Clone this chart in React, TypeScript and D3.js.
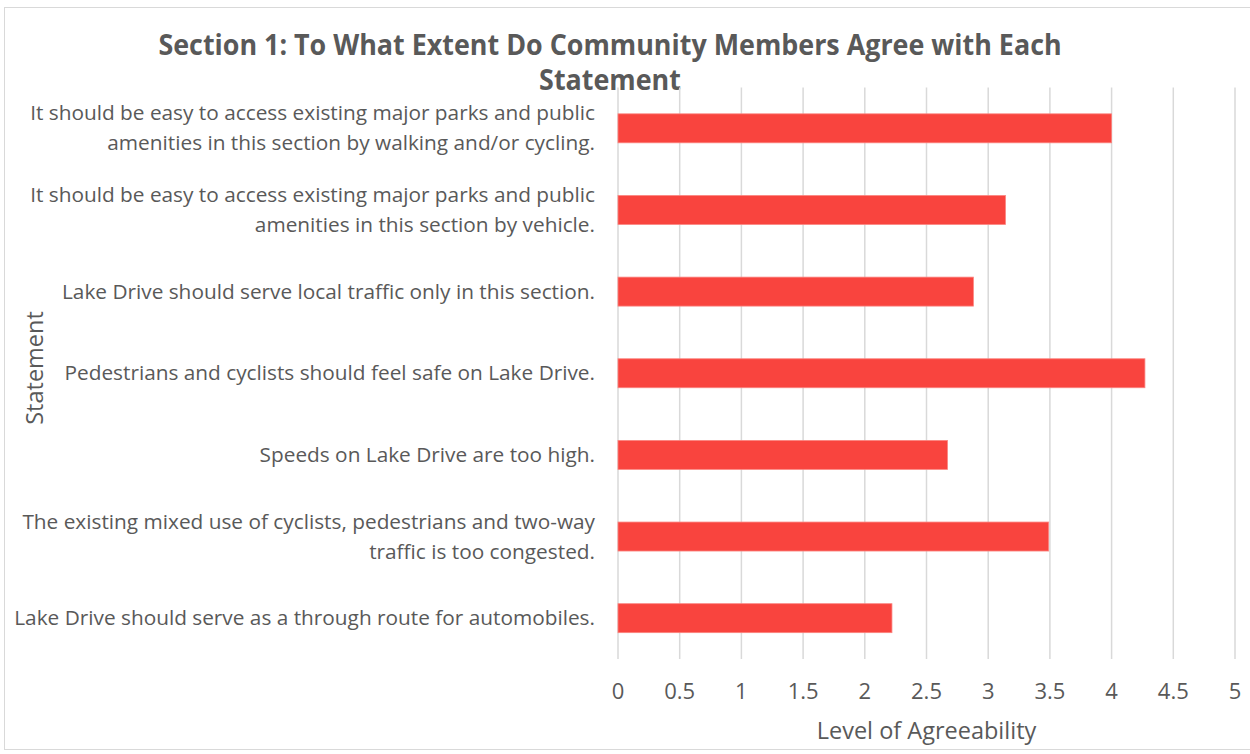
import * as d3 from "d3";

// statements as they wrap in the original, top to bottom
const statements: string[][] = [
  ["It should be easy to access existing major parks and public", "amenities in this section by walking and/or cycling."],
  ["It should be easy to access existing major parks and public", "amenities in this section by vehicle."],
  ["Lake Drive should serve local traffic only in this section."],
  ["Pedestrians and cyclists should feel safe on Lake Drive."],
  ["Speeds on Lake Drive are too high."],
  ["The existing mixed use of cyclists, pedestrians and two-way", "traffic is too congested."],
  ["Lake Drive should serve as a through route for automobiles."],
];
const agreeability: number[] = [4.0, 3.14, 2.88, 4.27, 2.67, 3.49, 2.22];
const ticks: number[] = [0, 0.5, 1, 1.5, 2, 2.5, 3, 3.5, 4, 4.5, 5];
const titleLines = ["Section 1: To What Extent Do Community Members Agree with Each", "Statement"];

const W = 1250;
const H = 754;
const FONT = "'Open Sans', sans-serif";
const TXT = "#595959";

const App = () => {
  const keys = statements.map((_, i) => String(i));
  const x = d3.scaleLinear().domain([0, 5]).range([618, 1235]);
  const y = d3.scaleBand().domain(keys).range([87.5, 659]).paddingInner(0.645).paddingOuter(0.3225);

  return (
    <svg width={W} height={H} style={{ position: "absolute", left: 0, top: 0 }}>
      <rect x={4.5} y={7.5} width={W} height={742} fill="#fff" stroke="#d9d9d9" strokeWidth={1} />

      {titleLines.map((t, i) => (
        <text key={i} transform={`translate(610,${55 + i * 35}) scale(0.96,1)`} textAnchor="middle"
          fontFamily={FONT} fontWeight={700} fontSize={28} fill={TXT}>{t}</text>
      ))}

      {ticks.map(t => (
        <line key={t} x1={x(t)} x2={x(t)} y1={87.5} y2={659} stroke="#d9d9d9" strokeWidth={1.5} />
      ))}

      {agreeability.map((v, i) => (
        <rect key={i} x={x(0)} y={y(keys[i])} width={x(v) - x(0)} height={y.bandwidth()}
          fill="#F9443E" stroke="#FB8580" strokeWidth={0.8} />
      ))}

      {statements.map((lines, i) => {
        const cy = (y(keys[i]) as number) + y.bandwidth() / 2;
        return lines.map((l, j) => (
          <text key={`${i}-${j}`} x={595} y={cy + (j - (lines.length - 1) / 2) * 30 + 7}
            textAnchor="end" fontFamily={FONT} fontSize={20.8} fill={TXT}>{l}</text>
        ));
      })}

      {ticks.map(t => (
        <text key={t} x={x(t)} y={699} textAnchor="middle"
          fontFamily={FONT} fontSize={22} fill={TXT}>{t}</text>
      ))}

      <text x={(x(0) + x(5)) / 2} y={739} textAnchor="middle"
        fontFamily={FONT} fontSize={23.5} fill={TXT}>Level of Agreeability</text>

      <text transform="translate(43,368) rotate(-90)" textAnchor="middle"
        fontFamily={FONT} fontSize={23.5} fill={TXT}>Statement</text>
    </svg>
  );
};

export default App;
